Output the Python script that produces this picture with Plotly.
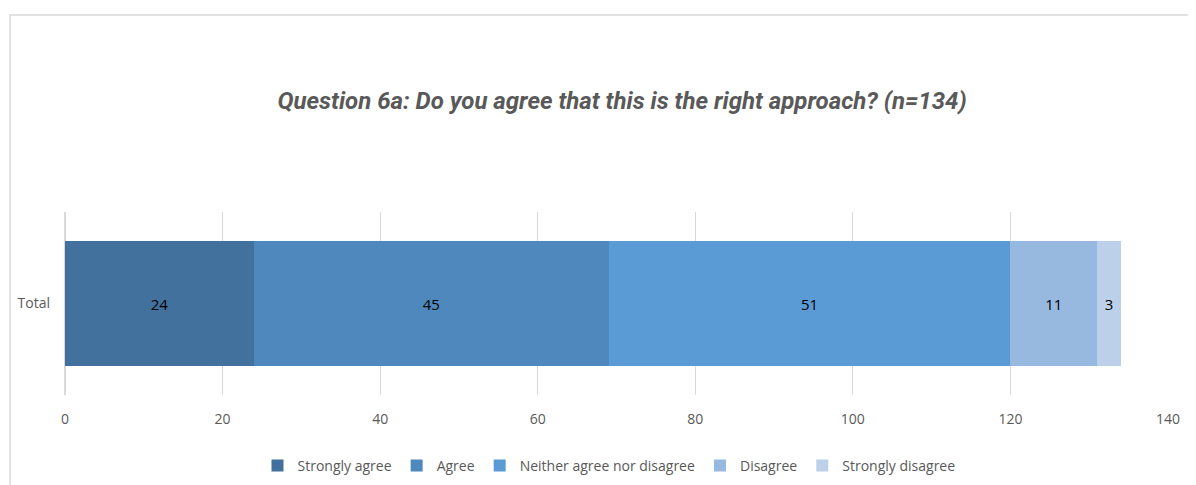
import plotly.graph_objects as go

categories = ["Total"]
series_names = ["Strongly agree", "Agree", "Neither agree nor disagree", "Disagree", "Strongly disagree"]
series_values = [[24], [45], [51], [11], [3]]
colors = ["#41719C", "#4E88BC", "#5B9BD5", "#97B9E0", "#BDD0EA"]
x_ticks = [0, 20, 40, 60, 80, 100, 120, 140]

fig = go.Figure()
for name, vals, col in zip(series_names, series_values, colors):
    fig.add_trace(go.Bar(
        y=categories, x=vals, name=name, orientation="h",
        marker=dict(color=col, line=dict(width=0)),
        text=[str(v) for v in vals], textposition="inside",
        insidetextanchor="middle",
        textfont=dict(color="#000000", size=15, family="Open Sans, sans-serif"),
        cliponaxis=False,
    ))

# page has an 8px body margin; figure sized to fit the window
OFF = 8
W, H = 1196 - OFF, 485 - OFF
L, T = 65 - OFF, 212 - OFF
R = W - (1168 - OFF)
B = H - (395 - OFF)
pw, ph = W - L - R, H - T - B

def px2paper_x(px):
    return (px - OFF - L) / pw

def px2paper_y(py):
    return (H - B - (py - OFF)) / ph

def px2cont_x(px):
    return (px - OFF) / W

def px2cont_y(py):
    return 1 - (py - OFF) / H

fig.update_layout(
    width=W, height=H,
    barmode="stack", bargap=0.322,
    margin=dict(l=L, r=R, t=T, b=B, autoexpand=False),
    paper_bgcolor="white", plot_bgcolor="white",
    title=dict(
        text="<b><i>Question 6a: Do you agree that this is the right approach? (n=134)</i></b>",
        x=px2cont_x(622), xref="container", xanchor="center",
        y=px2cont_y(101), yref="container", yanchor="middle",
        font=dict(size=24, color="#595959", family="Roboto, sans-serif"),
    ),
    xaxis=dict(
        range=[0, 140], tickvals=x_ticks, showgrid=True, gridcolor="#D9D9D9",
        gridwidth=1, zeroline=True, zerolinecolor="#D9D9D9", showline=False,
        tickfont=dict(size=14, color="#595959", family="Open Sans, sans-serif"),
        ticks="", ticklabelstandoff=14, fixedrange=True,
    ),
    yaxis=dict(
        showgrid=False, showline=False, zeroline=False, ticks="",
        tickfont=dict(size=14, color="#595959", family="Open Sans, sans-serif"),
        ticklabelstandoff=14,
    ),
    legend=dict(
        orientation="h", x=px2cont_x(609), xref="container", xanchor="center",
        y=px2cont_y(466), yref="container", yanchor="middle",
        font=dict(size=14, color="#595959", family="Open Sans, sans-serif"),
        traceorder="normal", itemwidth=30,
    ),
    showlegend=True,
    shapes=[dict(
        type="rect", xref="paper", yref="paper",
        x0=px2paper_x(10), x1=px2paper_x(1300),
        y0=px2paper_y(600), y1=px2paper_y(15),
        line=dict(color="#D9D9D9", width=1.5), fillcolor="rgba(0,0,0,0)", layer="below",
    )],
)

fig.write_html("out.html")
